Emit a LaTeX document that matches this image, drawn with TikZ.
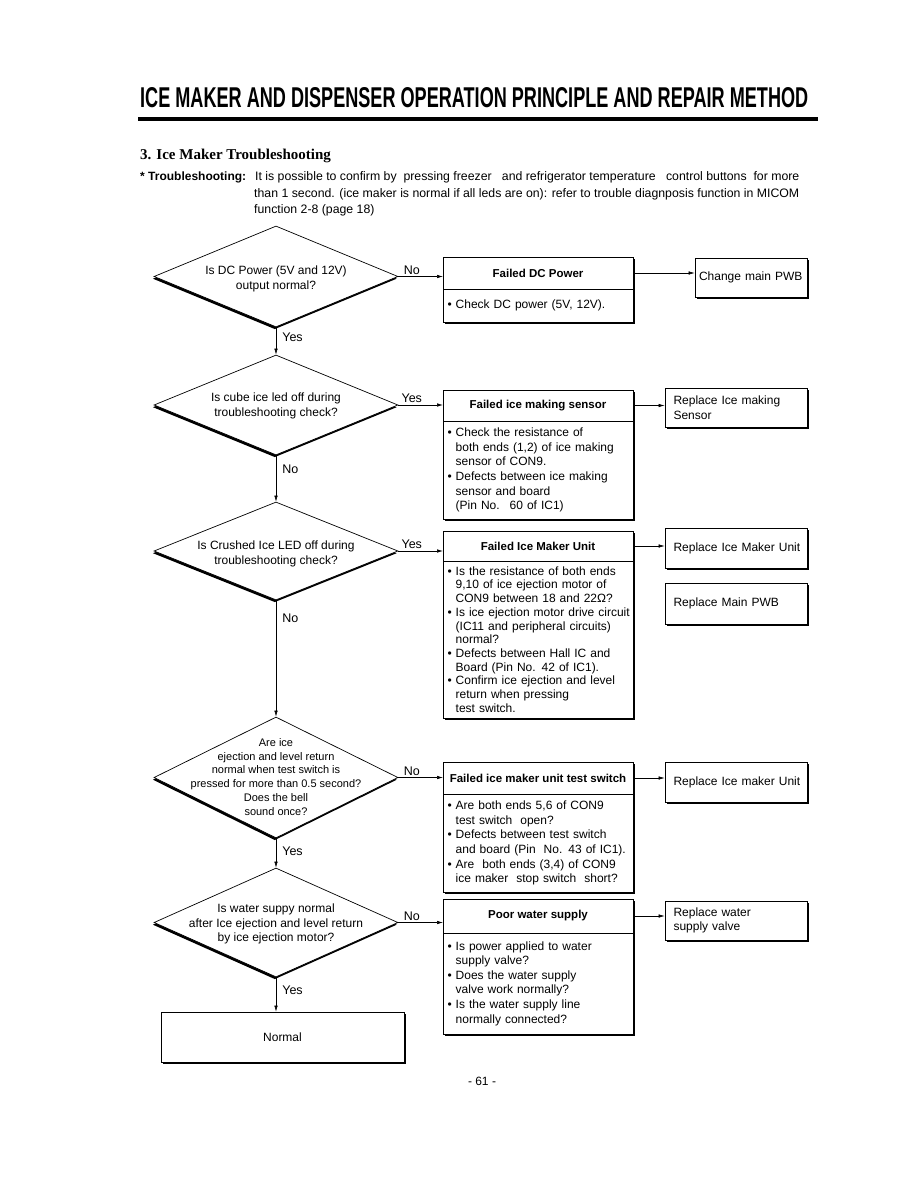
\documentclass[tikz,border=0pt]{standalone}
\usepackage{fontspec}
\setmainfont{Liberation Sans}
\newfontfamily\headserif{Liberation Serif}
\usepackage{graphicx}
\usetikzlibrary{arrows.meta,shapes.geometric,shadows}
\newcommand{\bul}{\textbullet\ }
\newcommand{\ind}{\hphantom{\textbullet\ }}

\begin{document}
\begin{tikzpicture}[x=1pt,y=-1pt,>={Latex[length=6pt,width=3.5pt]},
    txt/.style={font=\fontsize{12}{14.6}\selectfont},
    boxshadow/.style={drop shadow={shadow xshift=2pt,shadow yshift=-2pt,fill=black,opacity=1}},
    decision/.style={diamond,draw,fill=white,line width=.7pt,inner sep=0pt,
      minimum width=244pt,minimum height=#1,
      drop shadow={shadow xshift=-1.2pt,shadow yshift=-2.2pt,fill=black,opacity=1}},
    ask/.style={txt,align=center,inner sep=0pt},
    failhead/.style={draw,fill=white,line width=.7pt,boxshadow,outer sep=0pt,
      minimum width=190pt,minimum height=#1,inner sep=2pt,
      font=\bfseries\fontsize{11.5}{14}\selectfont},
    failbody/.style={txt,draw,fill=white,line width=.7pt,boxshadow,outer sep=0pt,
      anchor=north,text width=181pt,inner xsep=4.5pt,minimum height=#1,align=left},
    fixbox/.style={txt,draw,fill=white,line width=.7pt,boxshadow,text width=125pt,
      inner xsep=8.5pt,minimum height=#1,align=left},
    flow/.style={->,line width=.6pt},
    yn/.style={font=\fontsize{12.5}{14}\selectfont,inner sep=2pt}]
  \useasboundingbox (0,0) rectangle (918,1188);

  \node[anchor=base west,inner sep=0pt] (title) at (140,107)
    {\resizebox{668pt}{20pt}{\bfseries ICE MAKER AND DISPENSER OPERATION PRINCIPLE AND REPAIR METHOD}};
  \fill (138,117) rectangle (818,121);
  \node[anchor=base west,inner sep=0pt,font=\headserif\bfseries\fontsize{15}{18}\selectfont]
    (sec) at (140,159) {3. Ice Maker Troubleshooting};
  \node[txt,anchor=base west,inner sep=0pt,font=\bfseries\fontsize{12}{14}\selectfont]
    (tsh) at (140,180) {* Troubleshooting:};
  \node[anchor=base west,inner sep=0pt,font=\fontsize{12.3}{14}\selectfont] (tl1) at (255,180)
    {It is possible to confirm by~ pressing freezer~~ and refrigerator temperature~~ control buttons~ for more};
  \node[anchor=base west,inner sep=0pt,font=\fontsize{12.3}{14}\selectfont] (tl2) at (254,197)
    {than 1 second. (ice maker is normal if all leds are on): refer to trouble diagnposis function in MICOM};
  \node[anchor=base west,inner sep=0pt,font=\fontsize{12.3}{14}\selectfont] (tl3) at (254,213)
    {function 2-8 (page 18)};

  % decisions
  \node[decision=101pt] (d1) at (276,276.5) {};
  \node[ask] (q1) at (276,279) {Is DC Power (5V and 12V)\\output normal?};
  \node[decision=100pt] (d2) at (276,405) {};
  \node[ask] (q2) at (276,406) {Is cube ice led off during\\troubleshooting check?};
  \node[decision=98pt] (d3) at (276,551) {};
  \node[ask] (q3) at (276,554) {Is Crushed Ice LED off during\\troubleshooting check?};
  \node[decision=121pt] (d4) at (276,777.5) {};
  \node[ask,font=\fontsize{11}{13.9}\selectfont] (q4) at (276,777)
    {Are ice\\ejection and level return\\normal when test switch is\\pressed for more than 0.5 second?\\Does the bell\\sound once?};
  \node[decision=109pt] (d5) at (276,922.5) {};
  \node[ask] (q5) at (276,924)
    {Is water suppy normal\\after Ice ejection and level return\\by ice ejection motor?};
  \node[txt,draw,fill=white,line width=.7pt,boxshadow,minimum width=243pt,minimum height=50pt]
    (nbox) at (282.5,1037) {Normal};

  % failure boxes
  \node[failhead=32pt] (h1) at (538,273) {Failed DC Power};
  \node[failbody=33pt] (b1) at (h1.south) {\bul Check DC power (5V, 12V).};
  \node[failhead=31pt] (h2) at (538,405.5) {Failed ice making sensor};
  \node[failbody=98pt] (b2) at (h2.south)
    {\bul Check the resistance of\\\ind both ends (1,2) of ice making\\\ind sensor of CON9.\\
     \bul Defects between ice making\\\ind sensor and board\\\ind (Pin No.~ 60 of IC1)};
  \node[failhead=30pt] (h3) at (538,546) {Failed Ice Maker Unit};
  \node[failbody=157pt,font=\fontsize{12}{13.7}\selectfont] (b3) at (h3.south)
    {\bul Is the resistance of both ends\\\ind 9,10 of ice ejection motor of\\\ind CON9 between 18 and 22Ω?\\
     \mbox{\bul Is ice ejection motor drive circuit}\\\ind (IC11 and peripheral circuits)\\\ind normal?\\
     \bul Defects between Hall IC and\\\ind Board (Pin No. 42 of IC1).\\
     \bul Confirm ice ejection and level\\\ind return when pressing\\\ind test switch.};
  \node[failhead=32pt] (h4) at (538,778) {Failed ice maker unit test switch};
  \node[failbody=98pt] (b4) at (h4.south)
    {\bul Are both ends 5,6 of CON9\\\ind test switch~ open?\\
     \bul Defects between test switch\\\ind and board (Pin~ No. 43 of IC1).\\
     \bul Are~ both ends (3,4) of CON9\\\ind ice maker~ stop switch~ short?};
  \node[failhead=34pt] (h5) at (538,916) {Poor water supply};
  \node[failbody=101pt] (b5) at (h5.south)
    {\bul Is power applied to water\\\ind supply valve?\\
     \bul Does the water supply\\\ind valve work normally?\\
     \bul Is the water supply line\\\ind normally connected?};

  % repair boxes
  \node[fixbox=39pt,text width=104pt,inner xsep=4pt] (f1) at (751,277.5) {Change main PWB};
  \node[fixbox=39pt] (f2) at (736,407.5) {Replace Ice making\\Sensor};
  \node[fixbox=40pt] (f3) at (736,548) {\mbox{Replace Ice Maker Unit}};
  \node[fixbox=41pt] (f3b) at (736,603.5) {Replace Main PWB};
  \node[fixbox=40pt] (f4) at (736,782) {\mbox{Replace Ice maker Unit}};
  \node[fixbox=39pt] (f5) at (736,920.5) {Replace water\\supply valve};

  % connectors
  \draw[flow] (d1.east) -- node[yn,above,pos=.3] {No} (d1.east -| h1.west);
  \draw[flow] (h1.east) -- (h1.east -| f1.west);
  \draw[flow] (d1.south) -- node[yn,right,pos=.36,xshift=4pt] {Yes} (d2.north);
  \draw[flow] (d2.east) -- node[yn,above,pos=.3] {Yes} (d2.east -| h2.west);
  \draw[flow] (h2.east) -- (h2.east -| f2.west);
  \draw[flow] (d2.south) -- node[yn,right,pos=.3,xshift=4pt] {No} (d3.north);
  \draw[flow] (d3.east) -- node[yn,above,pos=.3] {Yes} (d3.east -| h3.west);
  \draw[flow] (h3.east) -- (h3.east -| f3.west);
  \draw[flow] (d3.south) -- node[yn,right,pos=.15,xshift=4pt] {No} (d4.north);
  \draw[flow] (d4.east) -- node[yn,above,pos=.3] {No} (d4.east -| h4.west);
  \draw[flow] (h4.east) -- (h4.east -| f4.west);
  \draw[flow] (d4.south) -- node[yn,right,pos=.43,xshift=4pt] {Yes} (d5.north);
  \draw[flow] (d5.east) -- node[yn,above,pos=.3] {No} (d5.east -| h5.west);
  \draw[flow] (h5.east) -- (h5.east -| f5.west);
  \draw[flow] (d5.south) -- node[yn,right,pos=.37,xshift=4pt] {Yes} (d5.south |- nbox.north);

  \node[txt] (pg) at (482,1081) {- 61 -};
\end{tikzpicture}
\end{document}
